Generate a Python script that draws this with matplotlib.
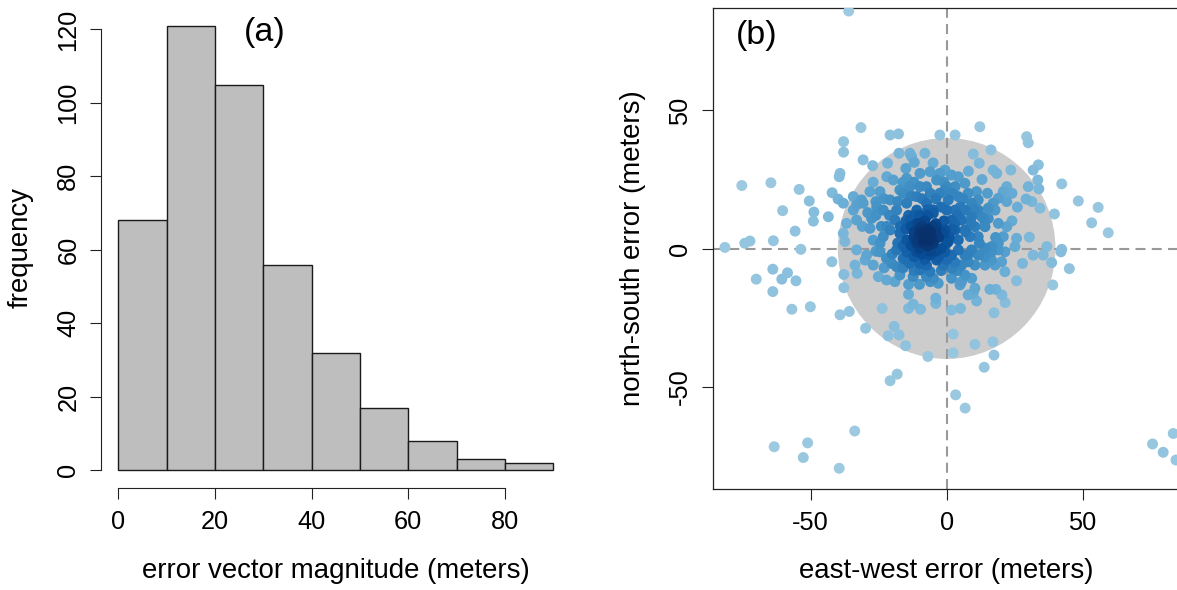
import numpy as np
import matplotlib
matplotlib.use("Agg")
import matplotlib.pyplot as plt
from matplotlib.colors import LinearSegmentedColormap
from matplotlib.patches import Circle

plt.rcParams['font.family'] = ['Liberation Sans', 'DejaVu Sans']
plt.rcParams['axes.unicode_minus'] = False

# ---- panel (a): histogram of error vector magnitudes ----
bin_edges = [0, 10, 20, 30, 40, 50, 60, 70, 80, 90]
freq = [68, 121, 105, 56, 32, 17, 8, 3, 2]
hist_xticks = [0, 20, 40, 60, 80]
hist_yticks = [0, 20, 40, 60, 80, 100, 120]

# ---- panel (b): east-west / north-south error of each fix (meters) ----
ew_error = [
    -36.0, -31.5, -20.8, -17.7, -2.5, 3.1, 12.2, 29.4, 30.0, -37.9, -37.9, -30.7, -27.2,
    -39.2, -39.5, -21.7, -17.5, -13.5, -12.9, -8.0, 9.8, 12.0, 16.3, 17.1, 18.4, 23.6,
    33.7, 31.8, 33.5, 33.9, 30.0, 42.3, 48.4, 55.7, 53.3, 59.4, 39.6, 29.2, 31.3, 34.3,
    25.7, 30.4, 36.8, 42.3,
    -75.3, -64.6, -54.2, -50.5, -60.3, -48.8, -49.0, -43.5, -55.7, -63.7, -72.3, -74.2,
    -81.5, -42.1, -39.9, -38.0, -34.3, -31.3, -28.2, -53.6, -63.9, -70.0, -58.5, -60.6,
    -55.4, -63.9, -56.9, -50.1, -42.2,
    -37.8, -32.9, -37.8, -39.2, -35.8, -29.8, -21.5, -17.5, -19.3, -15.1, -6.9, 2.4, 2.4,
    10.4, 17.0, 17.4, 13.8, -20.8, -18.2, 3.3, 6.8, -33.8, -63.4, -51.1, -52.7, -39.5,
    75.7, 79.6, 83.3, 84.3, -23.7, -14.0, -14.0, -9.6, -4.0, -4.0, 1.8, 5.1, 17.4, 11.0,
    9.8, 15.9, 18.1, 20.3, 21.5, 25.7, 39.0, 45.1, 42.0, 38.6, 27.9, 31.8, 35.5,
    -11.9, -33.1, -30.7, -34.3, -33.1, -36.8, -38.0, -37.4, -24.5, -25.7, -23.3, -27.6,
    -28.2, -23.3, -24.5, -19.6, -17.2, -14.7, -13.5, -9.8, -6.1, -2.5, -20.8, -18.4,
    -14.7, -13.5, -19.0, -20.8, -17.2, -11.0, -9.8, -7.4, -4.9, -2.5, 0.0, 0.0, -3.7,
    -6.1, -8.6, -11.0, -14.7, -1.2, 0.0, -4.9, -11.0, -7.4, -3.7, -9.8, -16.0,
    22.1, 20.8, 19.0, 22.1, 17.1, 15.3, 17.8, 15.3, 19.0, 22.1, 20.8, 25.1, -0.6, 1.8,
    4.3, 6.7, 3.1, -0.6, 0.6, 4.3, 7.9, 11.0, 11.6, 9.2, 6.7, 3.1, 1.8, 5.5, 9.2, 11.6,
    12.9, 14.1, 10.4, 6.7, 3.1, -0.6, 4.3, 8.6, 11.6, 0.6, 19.0, 16.5,
    -12.3, -33.1, -29.4, -30.0, -27.0, -33.7, -24.5, -22.1, -20.2, -18.4, -25.1, -22.1,
    -17.2, -12.3, -9.8, -7.4, -4.9, -3.1, -6.1, -16.0, -13.5, -9.8, -7.4, -18.4, -14.7,
    -11.0, -6.1, -3.7, -1.2,
    -0.6, 1.8, 4.3, 6.7, 9.2, 11.6, 14.1, 16.5, 19.0, 21.4, 7.9, 10.4, 5.5, 1.8, 6.7,
    9.2, 14.1, 17.8, 20.2, 21.4, 16.5, 1.8, 5.5, 4.9, 10.4, 7.9,
    -10.0, -8.0, -6.0, -9.0, -12.0, -7.0, -5.0, -11.0, -8.0, -4.0, -13.0, -3.0, -6.0,
    -9.0, -2.0, -15.0, -10.0, -5.0, -1.0, 2.0, -16.0, -12.0, -8.0, -3.0, 1.0, -7.0,
    -14.0, -7.0, -9.0, -8.0, -10.0, -6.0, -11.0, -5.0, -9.0, -7.0, -12.0, -4.0,
    -26.0, -22.0, -18.0, -15.0, -12.0, -6.0, 0.0, 4.0, 8.0, 12.0, 14.0, 10.0, 6.0, 2.0,
    -4.0, -9.0, -13.0, -18.0, -21.0, -24.0, -27.0, -20.0, -16.0, -10.0, -2.0, 3.0, 7.0,
    9.0, 4.0, -2.0, -7.0, -12.0, -15.0, -17.0, -13.0, -10.0, -4.0, 0.0, 3.0, 5.0, -1.0,
    -6.0, -12.0, -16.0, -23.0, -26.0, -29.0, -31.0, -26.0, -23.0, -19.0, -14.0, 14.0,
    18.0, 24.0, 26.0, 24.0, 15.0, 13.0, 8.0, -5.0, -15.0, -22.0, -27.0,
]
ns_error = [
    86.0, 43.8, 41.1, 41.5, 41.1, 41.1, 44.1, 40.5, 38.3, 38.7, 34.9, 32.1, 30.0,
    27.2, 26.0, 30.9, 34.5, 34.5, 33.3, 34.5, 34.2, 30.9, 35.7, 28.4, 27.2, 28.4,
    30.3, 28.4, 24.8, 21.6, 22.4, 23.4, 17.2, 14.9, 9.3, 5.7, 12.5, 17.9, 17.0, 14.6,
    3.7, 4.1, 0.7, -0.3,
    22.8, 23.8, 21.4, 17.2, 13.7, 13.2, 9.9, 11.5, 6.3, 2.8, 2.7, 1.9,
    0.4, 20.2, 17.9, 16.4, 18.8, 17.6, 20.6, -0.3, -7.5, -11.1, -8.8, -11.1,
    -11.7, -15.6, -22.0, -21.1, -4.8,
    -9.4, -9.0, -14.2, -24.0, -22.8, -28.9, -31.6, -31.3, -28.2, -35.2, -39.1, -31.0, -37.8,
    -34.7, -33.8, -38.6, -43.0, -47.9, -45.5, -53.0, -57.8, -66.1, -71.8, -70.4, -75.7, -79.6,
    -70.8, -73.8, -67.0, -76.6, -21.7, -16.6, -21.7, -22.0, -18.0, -19.9, -22.3, -21.7, -23.3, -19.0,
    -16.2, -14.8, -14.8, -16.8, -19.6, -11.7, -13.2, -7.3, -1.2, -5.1, -5.4, -2.4, -2.4,
    31.2, 15.8, 16.4, 13.9, 10.3, 9.1, 5.5, 2.5, 20.6, 15.1, 13.9, 10.9,
    7.3, 4.3, 1.9, 24.8, 21.2, 25.4, 22.4, 27.2, 27.8, 27.2, 17.6, 13.9,
    16.4, 10.3, 10.3, 6.7, 5.5, 13.9, 9.1, 16.4, 12.8, 20.0, 22.4, 13.9, 7.9,
    5.5, 3.1, 1.9, 3.1, 5.5, 1.9, 1.9, 18.8, 22.4, 24.8, 22.4, 20.0,
    22.4, 20.6, 18.2, 17.0, 16.4, 14.6, 13.9, 10.9, 9.1, 7.9, 4.3, 0.7, 28.4, 26.6,
    26.0, 23.6, 22.4, 21.2, 17.6, 18.8, 20.0, 20.6, 17.6, 16.4, 13.9, 13.9, 10.3, 10.3, 11.5, 13.9,
    11.5, 7.9, 7.9, 6.7, 6.7, 6.7, 3.1, 4.3, 4.3, 2.5, 1.9, 0.7,
    -20.2, -0.5, -2.4, -4.2, -6.0, -6.0, -1.2, -3.6, -5.4, -6.6, -10.2, -11.4,
    -9.6, -10.2, -7.8, -10.2, -10.8, -12.6, -8.4, -3.6, -5.4, -5.4, -6.0, -0.5, -1.2,
    -1.2, -2.4, -4.2, -6.0,
    -1.2, -2.4, -0.5, -2.4, -0.5, -2.4, 0.1, -1.2, -0.5, -1.2, -4.8, -6.0, -6.0, -7.2, -9.6,
    -10.8, -6.0, -6.0, -4.8, -8.4, -4.2, -10.8, -12.0, -13.2, -14.4, -16.8,
    5.0, 3.0, 6.0, 8.0, 6.0, 1.0, 3.0, 3.0, 10.0, 9.0, 8.0, 4.0, -1.0,
    -2.0, 0.0, 7.0, 12.0, 14.0, 10.0, 7.0, 1.0, -3.0, -4.0, -3.0, 4.0, 12.0,
    12.0, 7.0, 6.0, 5.0, 7.0, 4.0, 9.0, 8.0, 2.0, 3.0, 4.0, 6.0,
    12.0, 8.0, 2.0, -4.0, -8.0, -12.0, -4.0, -8.0, -2.0, 2.0, 10.0, 14.0, 18.0, 20.0,
    18.0, 18.0, 19.0, 17.0, 12.0, 8.0, 3.0, -2.0, -7.0, -13.0, -8.0, -5.0, 6.0,
    9.0, 12.0, 15.0, 14.0, 12.0, 10.0, 8.0, 1.0, 0.0, -1.0, 3.0, 9.0, 15.0, 24.0,
    20.0, 24.0, 24.0, 18.0, 17.0, 13.0, 8.0, -1.0, -7.0, -12.0, -13.0, -3.0,
    4.0, 10.0, 15.0, 20.0, 20.0, 25.0, 28.0, 31.0, 29.0, 26.0, 24.0,
]
scatter_ticks = [-50, 0, 50]
circle_radius = 40

W, H = 1177, 590
fig = plt.figure(figsize=(W / 100, H / 100), dpi=100)


def axes_px(left, top, right, bottom):
    return fig.add_axes([left / W, 1 - bottom / H, (right - left) / W, (bottom - top) / H])


FS_TICK = 18.3
FS_LAB = 19.9
FS_TAG = 24.5
tick_kw = dict(direction='out', length=8, width=0.8, labelsize=FS_TICK, color='#222222')


def style_ticks(ax):
    ax.tick_params(**tick_kw)
    ax.tick_params(axis='x', pad=8.0)
    ax.tick_params(axis='y', pad=7.0, labelrotation=90)
    for lab in ax.get_yticklabels():
        lab.set_va('center')


# ---- (a) histogram ----
A_L, A_R, A_T, A_B = 101.1, 570.6, 8, 488
axa = axes_px(A_L, A_T, A_R, A_B)
axa.bar(bin_edges[:-1], freq, width=np.diff(bin_edges), align='edge',
        color='#BEBEBE', edgecolor='#1a1a1a', linewidth=1.0)
axa.set_xlim(-3.6, 93.6)
axa.set_ylim(-4.84, 125.84)
for s in ('top', 'right'):
    axa.spines[s].set_visible(False)
axa.spines['left'].set_bounds(0, 120)
axa.spines['bottom'].set_bounds(0, 80)
for s in ('left', 'bottom'):
    axa.spines[s].set_linewidth(0.8)
    axa.spines[s].set_color('#222222')
axa.set_xticks(hist_xticks)
axa.set_yticks(hist_yticks)
style_ticks(axa)
axa.set_xlabel('error vector magnitude (meters)', fontsize=FS_LAB)
axa.set_ylabel('frequency', fontsize=FS_LAB)
axa.xaxis.set_label_coords(0.5, -(571 - A_B) / (A_B - A_T))
axa.xaxis.label.set_va('center')
axa.yaxis.set_label_coords(-(A_L - 21) / (A_R - A_L), 0.5)
axa.yaxis.label.set_va('center')
axa.text(30.3, 119.3, '(a)', fontsize=FS_TAG, ha='center', va='center')

# ---- (b) scatter of error components ----
B_L, B_R, B_T, B_B = 712.7, 1180.6, 8, 489
axb = axes_px(B_L, B_T, B_R, B_B)
axb.set_xlim(-86, 86)
axb.set_ylim(-87.1, 87.1)
axb.add_patch(Circle((0, 0), circle_radius, facecolor='#CCCCCC', edgecolor='none', zorder=1))
dash = dict(color='#999999', linewidth=1.5, linestyle=(0, (4.8, 3.0)), zorder=2)
axb.axhline(0, **dash)
axb.axvline(0, **dash)

# colour each point by the local point density (smoothed with a gaussian kernel)
pts = np.column_stack([ew_error, ns_error])
d2 = ((pts[:, None, :] - pts[None, :, :]) ** 2).sum(-1)
dens = np.exp(-d2 / (2 * 5.5 ** 2)).sum(1)
level = (dens - dens.min()) / (dens.max() - dens.min())
blues = LinearSegmentedColormap.from_list(
    'blues6', ['#9ECAE1', '#6BAED6', '#4292C6', '#2171B5', '#08519C', '#08306B'])
order = np.argsort(level)
axb.scatter(pts[order, 0], pts[order, 1], s=62, c=blues(level[order]),
            edgecolors='none', zorder=3)

for s in axb.spines.values():
    s.set_linewidth(0.9)
    s.set_color('#222222')
axb.set_xticks(scatter_ticks)
axb.set_yticks(scatter_ticks)
style_ticks(axb)
axb.set_xlabel('east-west error (meters)', fontsize=FS_LAB)
axb.set_ylabel('north-south error (meters)', fontsize=FS_LAB)
axb.xaxis.set_label_coords(0.5, -(571 - B_B) / (B_B - B_T))
axb.xaxis.label.set_va('center')
axb.yaxis.set_label_coords(-(B_L - 633) / (B_R - B_L), 0.5)
axb.yaxis.label.set_va('center')
axb.text(-70, 77.2, '(b)', fontsize=FS_TAG, ha='center', va='center')

fig.savefig('out.png', dpi=100)
